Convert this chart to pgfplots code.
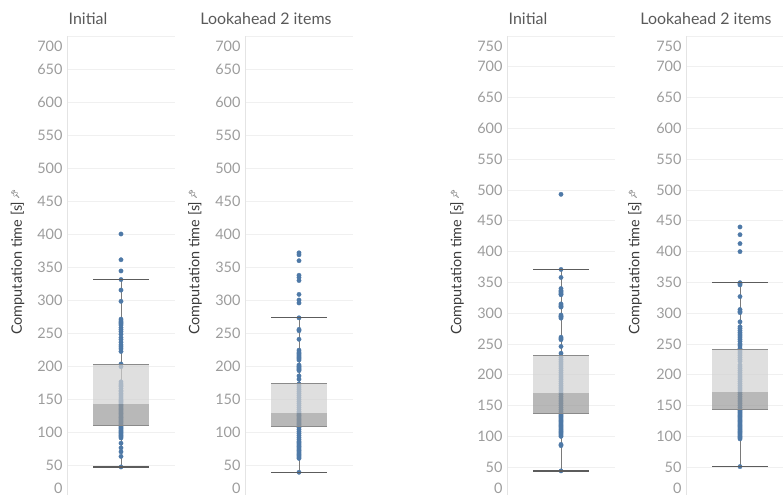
\documentclass[border=0pt]{standalone}
\usepackage{pgfplots}
\pgfplotsset{compat=1.18}
\usepackage{pgfplotstable}
\usepackage{fontspec}
\setmainfont{Lato}
\newfontfamily\pinfont{Noto Emoji}

\definecolor{ptblue}{HTML}{4E79A7}
\definecolor{gridc}{HTML}{F0F0F0}
\definecolor{axisc}{HTML}{E4E4E4}
\definecolor{tickc}{HTML}{9C9C9C}
\definecolor{titlec}{HTML}{595959}
\definecolor{labelc}{HTML}{3C3C3C}
\definecolor{boxhi}{HTML}{D2D2D2}
\definecolor{boxlo}{HTML}{9A9A9A}
\definecolor{capc}{HTML}{5C5C5C}
\definecolor{quartc}{HTML}{8A8A8A}
\definecolor{whiskc}{HTML}{7A7A7A}

% computation times [s], one table per panel
\pgfplotstableread[row sep=\\]{t\\400\\361\\344\\331\\315\\298\\271\\268\\266\\264\\262\\258\\255\\252\\248\\243\\240\\236\\232\\229\\226\\222\\203\\199\\176\\173\\171\\169\\166\\163\\161\\158\\156\\153\\150\\148\\146\\144\\142\\140\\138\\136\\134\\132\\130\\128\\126\\124\\122\\120\\118\\116\\114\\112\\110\\109\\107\\105\\103\\101\\99\\97\\95\\93\\91\\83\\76\\70\\63\\47\\}\initA
\pgfplotstableread[row sep=\\]{t\\371.5\\368.5\\359.5\\337.5\\334\\329.5\\308.5\\300\\295.5\\273\\255.5\\253.5\\240.5\\224\\221\\219\\217\\215\\213\\211\\209\\201.5\\199.5\\198\\196\\194.5\\193\\185\\180\\173\\170\\167\\164\\161\\158\\155\\152\\149\\146\\143\\140\\137\\134\\131\\129\\127\\125\\123\\121\\119\\117\\115\\113\\111\\109\\107\\104\\101\\98\\95\\92\\89\\86\\84\\82\\80\\78\\76\\74\\72\\70\\68\\66\\64\\62\\60\\39\\}\lookA
\pgfplotstableread[row sep=\\]{t\\493\\371\\358\\340\\337\\335\\333\\331\\330\\315\\313\\311\\310\\297\\295\\294\\292\\261\\259\\257\\246\\235\\231\\228\\225\\222\\219\\216\\213\\210\\207\\204\\201\\198\\195\\192\\189\\186\\183\\180\\177\\174\\171\\168\\165\\162\\159\\156\\153\\150\\147\\144\\141\\138\\136\\134\\132\\130\\128\\126\\124\\122\\120\\118\\116\\114\\112\\110\\108\\106\\104\\102\\100\\87\\85\\44\\}\initB
\pgfplotstableread[row sep=\\]{t\\440\\427.5\\413\\400\\349.5\\348\\346\\327\\306\\303\\301\\286\\278\\275\\272\\269\\266\\263\\260\\257\\254\\250\\247\\243\\240\\237\\234\\231\\228\\225\\222\\216\\213\\210\\207\\204\\201\\198\\195\\192\\189\\186\\183\\180\\177\\174\\171\\168\\165\\162\\159\\156\\153\\150\\147\\144\\142\\140\\138\\136\\134\\132\\130\\128\\126\\124\\122\\120\\118\\116\\114\\112\\110\\108\\106\\104\\102\\100\\98\\96\\51\\}\lookB

% box plot: #1 table, #2 lower whisker, #3 Q1, #4 median, #5 Q3, #6 upper whisker
\newcommand\boxcol[6]{%
  \addplot[whiskc, line width=0.9bp] coordinates {(0,#2) (0,#6)};
  \addplot[only marks, color=ptblue, mark=*, mark size=2.2bp,
    mark options={draw=ptblue, fill=ptblue, line width=0.3bp}] table[x expr=0, y=t] {#1};
  \addplot[draw=none, fill=boxhi, fill opacity=0.7] coordinates
    {(-0.51,#4) (0.51,#4) (0.51,#5) (-0.51,#5)} -- cycle;
  \addplot[draw=none, fill=boxlo, fill opacity=0.7] coordinates
    {(-0.51,#3) (0.51,#3) (0.51,#4) (-0.51,#4)} -- cycle;
  \addplot[quartc, line width=1.1bp] coordinates {(-0.51,#3) (0.51,#3)};
  \addplot[quartc, line width=1.1bp] coordinates {(-0.51,#5) (0.51,#5)};
  \addplot[capc, line width=1.3bp] coordinates {(-0.51,#2) (0.51,#2)};
  \addplot[capc, line width=1.3bp] coordinates {(-0.51,#6) (0.51,#6)};
}

\pgfplotsset{
  panel/.style={
    scale only axis, width=108bp, height=462bp,
    anchor=south west,
    xmin=-1, xmax=1, ymin=0,
    clip marker paths=true,
    axis x line=none,
    axis y line*=left,
    y axis line style={draw=axisc, line width=0.8bp},
    xtick=\empty,
    major tick length=0pt,
    ymajorgrids,
    grid style={gridc, line width=0.8bp},
    yticklabel style={font=\fontsize{14.5}{16}\selectfont, text=tickc, xshift=-1bp},
    extra y tick style={grid=none},
  },
  short/.style={ymax=700,
    ytick={50,100,...,700},
    yticklabels={50,100,150,200,250,300,350,400,450,500,550,600,650,{}},
    extra y ticks={15.2,684.8}, extra y tick labels={0,700}},
  tall/.style={ymax=750,
    ytick={50,100,...,750},
    yticklabels={50,100,150,200,250,300,350,400,450,500,550,600,650,700,{}},
    extra y ticks={16.4,733}, extra y tick labels={0,750}},
}

\newcommand\ylab{\fontsize{14.5}{16}\selectfont Computation time [s]\,\raisebox{0.5ex}{\pinfont\fontsize{8}{8}\selectfont\color{labelc}📌}}
\newcommand\ttl{\fontsize{16}{19}\selectfont}

\begin{document}
\begin{tikzpicture}
\useasboundingbox (0,0) rectangle (783bp,495bp);

\begin{axis}[panel, short, at={(67bp,-3bp)}]
  \boxcol{\initA}{47}{110}{142}{202}{331}
\end{axis}
\begin{axis}[panel, short, at={(245bp,-3bp)}]
  \boxcol{\lookA}{39}{109}{129}{174}{273}
\end{axis}
\begin{axis}[panel, tall, at={(507bp,-3bp)}]
  \boxcol{\initB}{44}{136.5}{170}{232}{371}
\end{axis}
\begin{axis}[panel, tall, at={(686bp,-3bp)}]
  \boxcol{\lookB}{51}{144}{172}{241.5}{349.5}
\end{axis}

\foreach \x/\t in {88/Initial, 266/Lookahead 2 items, 528/Initial, 706/Lookahead 2 items}
  \node[anchor=base, text=titlec, font=\ttl] at (\x bp, 470bp) {\t};

\foreach \x in {17.5, 195, 457, 635}
  \node[rotate=90, text=labelc] at (\x bp, 233bp) {\ylab};
\end{tikzpicture}
\end{document}
